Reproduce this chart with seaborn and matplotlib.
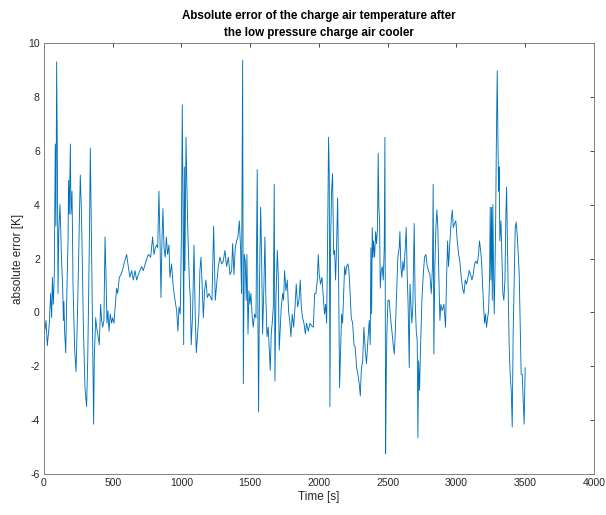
import numpy as np
import pandas as pd
import seaborn as sns
import matplotlib.pyplot as plt

# Values (time in s, error in K)
time_s = [
    7, 15, 24, 39, 48, 56, 61, 68, 75, 82, 87, 92, 97, 102, 107, 116, 121, 126,
    136, 141, 145, 150, 158, 165, 175, 179, 184, 192, 196, 204, 211, 223, 233,
    242, 252, 257, 264, 271, 276, 286, 298, 310, 318, 325, 332, 337, 342, 347,
    354, 361, 366, 376, 383, 390, 402, 412, 419, 427, 436, 444, 451, 458, 465,
    473, 482, 492, 499, 509, 516, 528, 536, 548, 560, 570, 582,
    601, 613, 625, 638, 650, 662, 674, 686, 698, 710, 722, 742, 759, 776, 790,
    800, 810, 819, 827, 836, 844, 851, 858, 865, 873, 882, 890, 899, 909, 916,
    928, 941, 953, 965, 974, 982, 991, 999, 1006, 1011, 1016, 1021, 1025, 1033,
    1040, 1047, 1057, 1064, 1071, 1081, 1091, 1100, 1108, 1117, 1127, 1134,
    1142, 1149, 1159, 1168,
    1178, 1188, 1200, 1212, 1222, 1234, 1246, 1256, 1268, 1280, 1292, 1304,
    1316, 1328, 1341, 1353, 1365, 1372, 1382, 1391, 1401, 1411, 1421, 1430,
    1437, 1445, 1450, 1457, 1464, 1471, 1476, 1484, 1491, 1498, 1505, 1515,
    1522, 1532, 1542, 1551, 1556, 1561, 1568, 1576, 1583, 1590, 1600, 1607,
    1614, 1622, 1631, 1639, 1646, 1653, 1660, 1668, 1675, 1680, 1687, 1697,
    1704, 1711, 1719, 1726, 1736, 1743, 1750,
    1760, 1770, 1779, 1789, 1796, 1806, 1816, 1826, 1835, 1845, 1855, 1864,
    1872, 1881, 1891, 1901, 1910, 1922, 1935, 1947, 1959, 1969, 1978, 1988,
    1995, 2002, 2012, 2022, 2032, 2041, 2049, 2056, 2063, 2070, 2075, 2080,
    2085, 2092, 2099, 2107, 2114, 2121, 2128, 2136, 2143, 2150, 2158, 2165,
    2172, 2179, 2187, 2194, 2201, 2211, 2218, 2225, 2235, 2245, 2255, 2264,
    2274, 2284, 2293, 2301, 2308, 2318, 2327,
    2337, 2346, 2356, 2366, 2373, 2378, 2383, 2388, 2393, 2397, 2405, 2412,
    2419, 2426, 2431, 2436, 2441, 2446, 2453, 2460, 2468, 2475, 2480, 2485,
    2490, 2494, 2502, 2511, 2521, 2531, 2540, 2548, 2555, 2565, 2574, 2584,
    2589, 2596, 2603, 2611, 2618, 2628, 2635, 2642, 2649, 2657, 2662, 2669,
    2676, 2683, 2693, 2700, 2708, 2715, 2720, 2725, 2732, 2739, 2749, 2759,
    2768, 2778, 2788, 2797, 2807, 2817, 2826, 2831, 2836, 2843, 2851, 2858,
    2865, 2872, 2880, 2887, 2897, 2909,
    2921, 2928, 2936, 2943, 2953, 2962, 2970, 2977, 2987, 2996, 3006, 3016,
    3025, 3035, 3045, 3055, 3064, 3074, 3084, 3093, 3103, 3113, 3122, 3132,
    3142, 3151, 3161, 3168, 3176, 3183, 3190, 3198, 3205, 3212, 3219, 3227,
    3234, 3241, 3246, 3251, 3256, 3261, 3265, 3270, 3275, 3280, 3285, 3290,
    3297, 3302, 3307, 3311, 3316, 3324, 3331, 3338, 3345, 3353, 3360, 3365,
    3370, 3377, 3384, 3391, 3399, 3406, 3413, 3421, 3428, 3435, 3442, 3450,
    3457, 3464, 3471, 3479, 3486, 3493, 3500,
]

abs_error = [
    -0.65, -0.3, -1.24, -0.4, 0.7, -0.2, 1.3, 0.3, 1.4, 6.25, 3.2, 9.3, 5.9,
    0.7, 2.9, 4.0, 3.2, 2.2, 0.9, -0.3, 0.4, -0.7, -1.5, 0.4, 2.7, 4.9, 3.65,
    6.25, 3.65, 4.5, 1.05, -1.4, -2.2, -0.4, 2.0, 3.4, 5.1, 4.0, 2.7, -0.4,
    -2.8, -3.5, -1.8, 0.7, 3.5, 6.1, 4.1, 2.0, -1.05, -4.15, -1.7, -0.2, -0.55,
    -0.8, -1.2, 0.3, -0.3, -0.55, -0.3, 2.8, 1.4, -0.4, 0.06, -0.7, -0.06,
    -0.4, -0.2, -0.4, 0.06, 0.9, 0.7, 1.3, 1.4, 1.55, 1.8,
    2.15, 1.7, 1.3, 1.55, 1.2, 1.55, 1.2, 1.4, 1.55, 1.7, 1.55, 1.9, 2.15,
    2.05, 2.8, 2.15, 2.4, 2.5, 2.4, 4.5, 2.65, 0.55, 2.65, 3.85, 2.4, 2.05,
    2.8, 2.15, 2.5, 1.3, 1.8, 0.9, 0.45, 0.06, -0.7, 0.2, -0.06, 2.65, 7.7,
    3.9, -1.2, 5.4, 1.55, 6.5, 4.5, 2.9, 1.2, 0.55, -1.2, -0.06, 2.5, -0.06,
    -1.5, -0.8, -0.06, 1.55, 2.05, 1.2, -0.2, 0.8,
    1.2, 0.55, 0.7, 0.55, 0.45, 3.2, 0.45, 1.05, 1.7, 2.05, 1.8, 1.9, 2.3,
    1.7, 2.05, 1.4, 1.55, 2.55, 1.4, 2.4, 2.65, 2.8, 3.4, 2.4, 0.7, 9.35,
    -2.65, 2.15, 1.9, 0.45, 2.15, -0.8, 0.8, 0.3, 0.7, -0.2, -0.55, -0.06,
    -0.2, 5.3, -0.06, -3.7, 1.2, 3.9, 2.05, -0.8, 1.05, 2.8, 0.55, -0.9,
    -0.55, -1.4, -2.15, -0.8, -0.4, 0.2, 4.75, -2.55, 0.45, 2.3, 1.4, -1.4,
    -0.55, 0.2, 0.7, 0.45, 1.55,
    0.8, 1.2, 0.06, -0.4, -0.9, -0.06, -0.55, 0.2, 1.05, 0.2, 0.45, 1.2, 0.2,
    -0.2, -0.4, -0.8, -0.4, -0.7, -0.4, -0.5, -0.55, 0.7, 0.7, 1.2, 2.15,
    1.4, 1.05, 1.3, 0.55, -0.06, 0.3, -0.4, 2.65, 6.5, 5.15, -3.5, 2.65, 4.5,
    5.15, 2.15, 2.3, 1.2, 2.4, 4.25, 1.4, -2.8, -1.3, -0.06, -0.4, 0.55, 1.7,
    1.4, 1.7, 1.8, 1.55, 0.9, -0.2, -0.4, -1.2, -1.3, -2.05, -2.3, -2.65,
    -3.1, -2.15, -1.8, -0.55,
    -1.4, -1.9, -1.05, -0.3, -1.2, 2.4, -0.06, 3.15, 2.05, 2.65, 2.05, 3.0,
    2.55, 3.15, 5.9, 3.9, 3.4, 0.9, 1.55, 1.7, 1.2, 2.4, 6.5, -5.25, -2.3,
    -0.8, 0.45, 0.45, -0.2, -0.7, -1.2, -1.55, -0.8, 0.7, 2.05, 2.4, 3.0,
    1.7, 1.3, 1.9, 1.55, 2.4, 3.15, 1.4, 0.2, -2.05, 1.05, 0.3, -0.4, 0.2,
    3.3, 0.45, -0.7, -1.05, -4.65, -1.8, -2.9, -1.3, 0.45, 1.4, 2.05, 2.15,
    1.7, 1.55, 1.4, 0.7, 1.7, 4.75, -1.55, 1.7, 3.15, 3.8, 3.15, 1.4, -0.3,
    0.3, 0.06, 0.3,
    -0.55, 1.2, 2.65, 1.7, 2.65, 3.4, 3.8, 3.15, 3.3, 3.4, 2.65, 2.15, 1.9,
    1.3, 0.9, 0.7, 1.2, 1.05, 1.3, 1.55, 1.4, 1.2, 1.4, 1.8, 1.9, 1.8, 2.15,
    2.65, 2.3, 1.9, 1.05, 0.2, -0.4, -0.06, -0.55, -0.2, 0.06, 1.2, 3.9, 1.2,
    3.9, 0.45, 4.0, 1.7, -0.06, 1.4, 3.15, 6.0, 8.97, 6.4, 4.5, 5.4, 2.65,
    3.4, 2.05, 0.7, 0.45, 1.2, 3.65, 4.65, 2.9, 0.7, -1.3, -2.3, -2.9, -4.25,
    -0.7, 1.4, 3.15, 3.35, 2.9, 2.15, 1.4, -0.55, -2.3, -2.3, -3.3, -4.15,
    -2.05,
]

x_ticks = list(range(0, 4001, 500))
y_ticks = list(range(-6, 11, 2))

df = pd.DataFrame({'Time [s]': time_s, 'absolute error [K]': abs_error})

sns.set_theme(style='white')
plt.rcParams['font.family'] = ['Liberation Sans', 'DejaVu Sans']
plt.rcParams['axes.unicode_minus'] = False

fig = plt.figure(figsize=(6.06, 5.15), dpi=100)
ax = fig.add_axes([0.0726, 0.0796, 0.9074, 0.8369])

sns.lineplot(data=df, x='Time [s]', y='absolute error [K]', ax=ax,
             color='#0072BD', linewidth=0.65, sort=False, estimator=None)

ax.set_xlim(0, 4000)
ax.set_ylim(-6, 10)
ax.set_xticks(x_ticks)
ax.set_yticks(y_ticks)
ax.tick_params(direction='in', length=3, width=0.6, colors='#262626',
               labelsize=7.5, top=True, right=True, pad=3)
for s in ax.spines.values():
    s.set_color('#808080')
    s.set_linewidth(0.7)

ax.set_xlabel('Time [s]', fontsize=8.5, color='#262626', labelpad=2)
ax.set_ylabel('absolute error [K]', fontsize=8.5, color='#262626', labelpad=3)
ax.set_title('Absolute error of the charge air temperature after\n'
             'the low pressure charge air cooler',
             fontsize=8.4, fontweight='bold', color='black', pad=5,
             linespacing=1.6)

fig.savefig('out.png', dpi=100)
